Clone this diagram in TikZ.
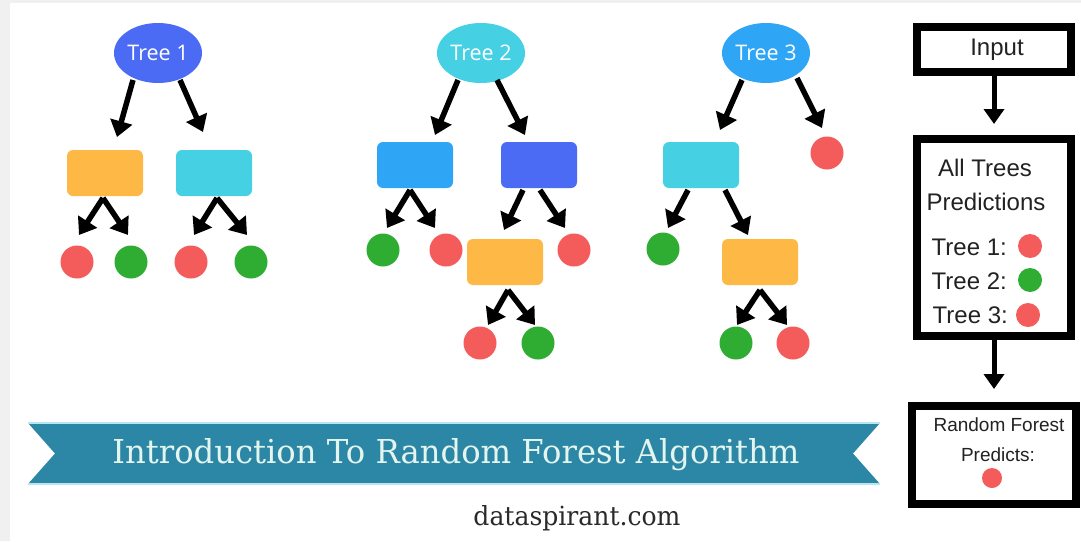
\documentclass[tikz,border=0pt]{standalone}
\usepackage{fontspec}
\usepackage{graphicx}
\usetikzlibrary{shapes.geometric,arrows.meta,calc}
\newfontfamily\panelfont{Liberation Sans}
\newfontfamily\treefont{Open Sans}
\newfontfamily\slabfont{DejaVu Serif}
\definecolor{royal}{HTML}{4B6BF5}
\definecolor{cyanb}{HTML}{45D0E3}
\definecolor{skyb}{HTML}{2EA6F5}
\definecolor{orangeb}{HTML}{FDB846}
\definecolor{redl}{HTML}{F45B5B}
\definecolor{greenl}{HTML}{2EAD32}
\definecolor{bannerc}{HTML}{2C87A7}
\definecolor{bannerline}{HTML}{B8E6EE}
\definecolor{bannertext}{HTML}{E4F5EE}
\definecolor{framegray}{HTML}{F0F0F0}
\definecolor{paneltext}{HTML}{222222}
\definecolor{urltext}{HTML}{2A2A2A}
\begin{document}
\begin{tikzpicture}[x=1pt,y=-1pt,
  ell/.style={ellipse, minimum width=88pt, minimum height=60pt, inner sep=0pt,
              text=white, font=\treefont\fontsize{21.5}{26}\selectfont},
  tbox/.style={rectangle, rounded corners=6pt, minimum width=76pt, minimum height=46pt, inner sep=0pt},
  leaf/.style={circle, minimum size=33pt, inner sep=0pt},
  dot/.style={circle, minimum size=24pt, inner sep=0pt},
  pbox/.style={rectangle, draw=black, line width=8pt, fill=white, inner sep=0pt},
  ptext/.style={text=paneltext, inner sep=0pt, font=\panelfont\fontsize{24}{28}\selectfont},
  arr/.style={line width=5.5pt, -{Triangle[length=16pt,width=22pt]}},
  parr/.style={line width=5pt, -{Triangle[length=15pt,width=20pt]}}
]
% background
\fill[framegray] (0,0) rectangle (1081,541);
\fill[white] (10,3) rectangle (1081,541);
\useasboundingbox (0,0) rectangle (1081,541);

% ---------------- Tree 1
\node[ell, fill=royal] (t1) at (158,53) {Tree 1};
\node[tbox, fill=orangeb] (b11) at (105,173) {};
\node[tbox, fill=cyanb] (b12) at (214,173) {};
\node[leaf, fill=redl] (l11) at (77,262) {};
\node[leaf, fill=greenl] (l12) at (131,262) {};
\node[leaf, fill=redl] (l13) at (191,262) {};
\node[leaf, fill=greenl] (l14) at (251,262) {};
\draw[arr] ($(t1)+(-25,27)$) -- ($(b11)+(12,-36)$);
\draw[arr] ($(t1)+(22,27)$) -- ($(b12)+(-11,-41)$);
\draw[arr] ($(b11)+(-2,25)$) -- ($(l11)+(2,-27)$);
\draw[arr] ($(b11)+(-2,25)$) -- ($(l12)+(-3,-27)$);
\draw[arr] ($(b12)+(3,25)$) -- ($(l13)+(3,-27)$);
\draw[arr] ($(b12)+(3,25)$) -- ($(l14)+(-4,-27)$);

% ---------------- Tree 2
\node[ell, fill=cyanb] (t2) at (481,53) {Tree 2};
\node[tbox, fill=skyb] (b21) at (415,165) {};
\node[tbox, fill=royal] (b22) at (539,165) {};
\node[tbox, fill=orangeb] (b23) at (505,262) {};
\node[leaf, fill=greenl] (l21) at (383,250) {};
\node[leaf, fill=redl] (l22) at (446,250) {};
\node[leaf, fill=redl] (l23) at (574,250) {};
\node[leaf, fill=redl] (l24) at (480,343) {};
\node[leaf, fill=greenl] (l25) at (538,343) {};
\draw[arr] ($(t2)+(-23,27)$) -- ($(b21)+(20,-30)$);
\draw[arr] ($(t2)+(16,27)$) -- ($(b22)+(-14,-30)$);
\draw[arr] ($(b21)+(-5,25)$) -- ($(l21)+(4,-22)$);
\draw[arr] ($(b21)+(-5,25)$) -- ($(l22)+(-11,-22)$);
\draw[arr] ($(b22)+(-16,25)$) -- ($(b23)+(-1,-32)$);
\draw[arr] ($(b22)+(1,25)$) -- ($(l23)+(-9,-22)$);
\draw[arr] ($(b23)+(3,28)$) -- ($(l24)+(8,-18)$);
\draw[arr] ($(b23)+(3,28)$) -- ($(l25)+(-3,-18)$);

% ---------------- Tree 3
\node[ell, fill=skyb] (t3) at (766,53) {Tree 3};
\node[tbox, fill=cyanb] (b31) at (701,165) {};
\node[tbox, fill=orangeb] (b32) at (760,262) {};
\node[leaf, fill=redl] (l31) at (827,153) {};
\node[leaf, fill=greenl] (l32) at (663,249) {};
\node[leaf, fill=greenl] (l33) at (736,343) {};
\node[leaf, fill=redl] (l34) at (793,343) {};
\draw[arr] ($(t3)+(-24,27)$) -- ($(b31)+(19,-35)$);
\draw[arr] ($(t3)+(31,25)$) -- ($(l31)+(-5,-25)$);
\draw[arr] ($(b31)+(-13,25)$) -- ($(l32)+(5,-21)$);
\draw[arr] ($(b31)+(24,25)$) -- ($(b32)+(-12,-27)$);
\draw[arr] ($(b32)+(0,28)$) -- ($(l33)+(1,-18)$);
\draw[arr] ($(b32)+(0,28)$) -- ($(l34)+(-6,-18)$);

% ---------------- Right panel
\node[pbox, minimum width=154pt, minimum height=45pt] (input) at (994,49.5) {};
\node[ptext] (inputtxt) at (997,50) {Input};
\node[pbox, minimum width=154pt, minimum height=197pt] (all) at (994,237.5) {};
\node[ptext] (alltrees) at (985,168) {All Trees};
\node[ptext] (pred) at (986,202) {Predictions};
\node[ptext, anchor=east] (tr1) at (1007,247) {Tree 1:};
\node[ptext, anchor=east] (tr2) at (1007,281) {Tree 2:};
\node[ptext, anchor=east] (tr3) at (1008,315) {Tree 3:};
\node[dot, fill=redl] (d1) at (1030,246) {};
\node[dot, fill=greenl] (d2) at (1030,280) {};
\node[dot, fill=redl] (d3) at (1028,315) {};
\node[pbox, minimum width=164pt, minimum height=98pt] (rf) at (994,455) {};
\node[ptext, font=\panelfont\fontsize{19}{22}\selectfont] (rft1) at (999,425) {Random Forest};
\node[ptext, font=\panelfont\fontsize{19}{22}\selectfont] (rft2) at (998,455) {Predicts:};
\node[circle, minimum size=20pt, inner sep=0pt, fill=redl] (rfd) at (992,478) {};
\draw[parr, shorten >=11pt] (input.south) -- (all.north);
\draw[parr, shorten >=13pt] (all.south) -- (rf.north);

% ---------------- Banner
\fill[bannerc] (28,423) -- (880,423) -- (853,453.5) -- (880,484) -- (28,484) -- (55,453.5) -- cycle;
\draw[bannerline, line width=1.2pt] (28,423) -- (880,423);
\draw[bannerline, line width=1.2pt] (28,484) -- (880,484);
\node[text=bannertext, inner sep=0pt, anchor=base] (title) at (456,463)
  {\resizebox{687pt}{25pt}{\slabfont Introduction To Random Forest Algorithm}};
\node[text=urltext, inner sep=0pt, anchor=base] (url) at (577,525)
  {\resizebox{207pt}{20pt}{\slabfont dataspirant.com}};
\end{tikzpicture}
\end{document}
